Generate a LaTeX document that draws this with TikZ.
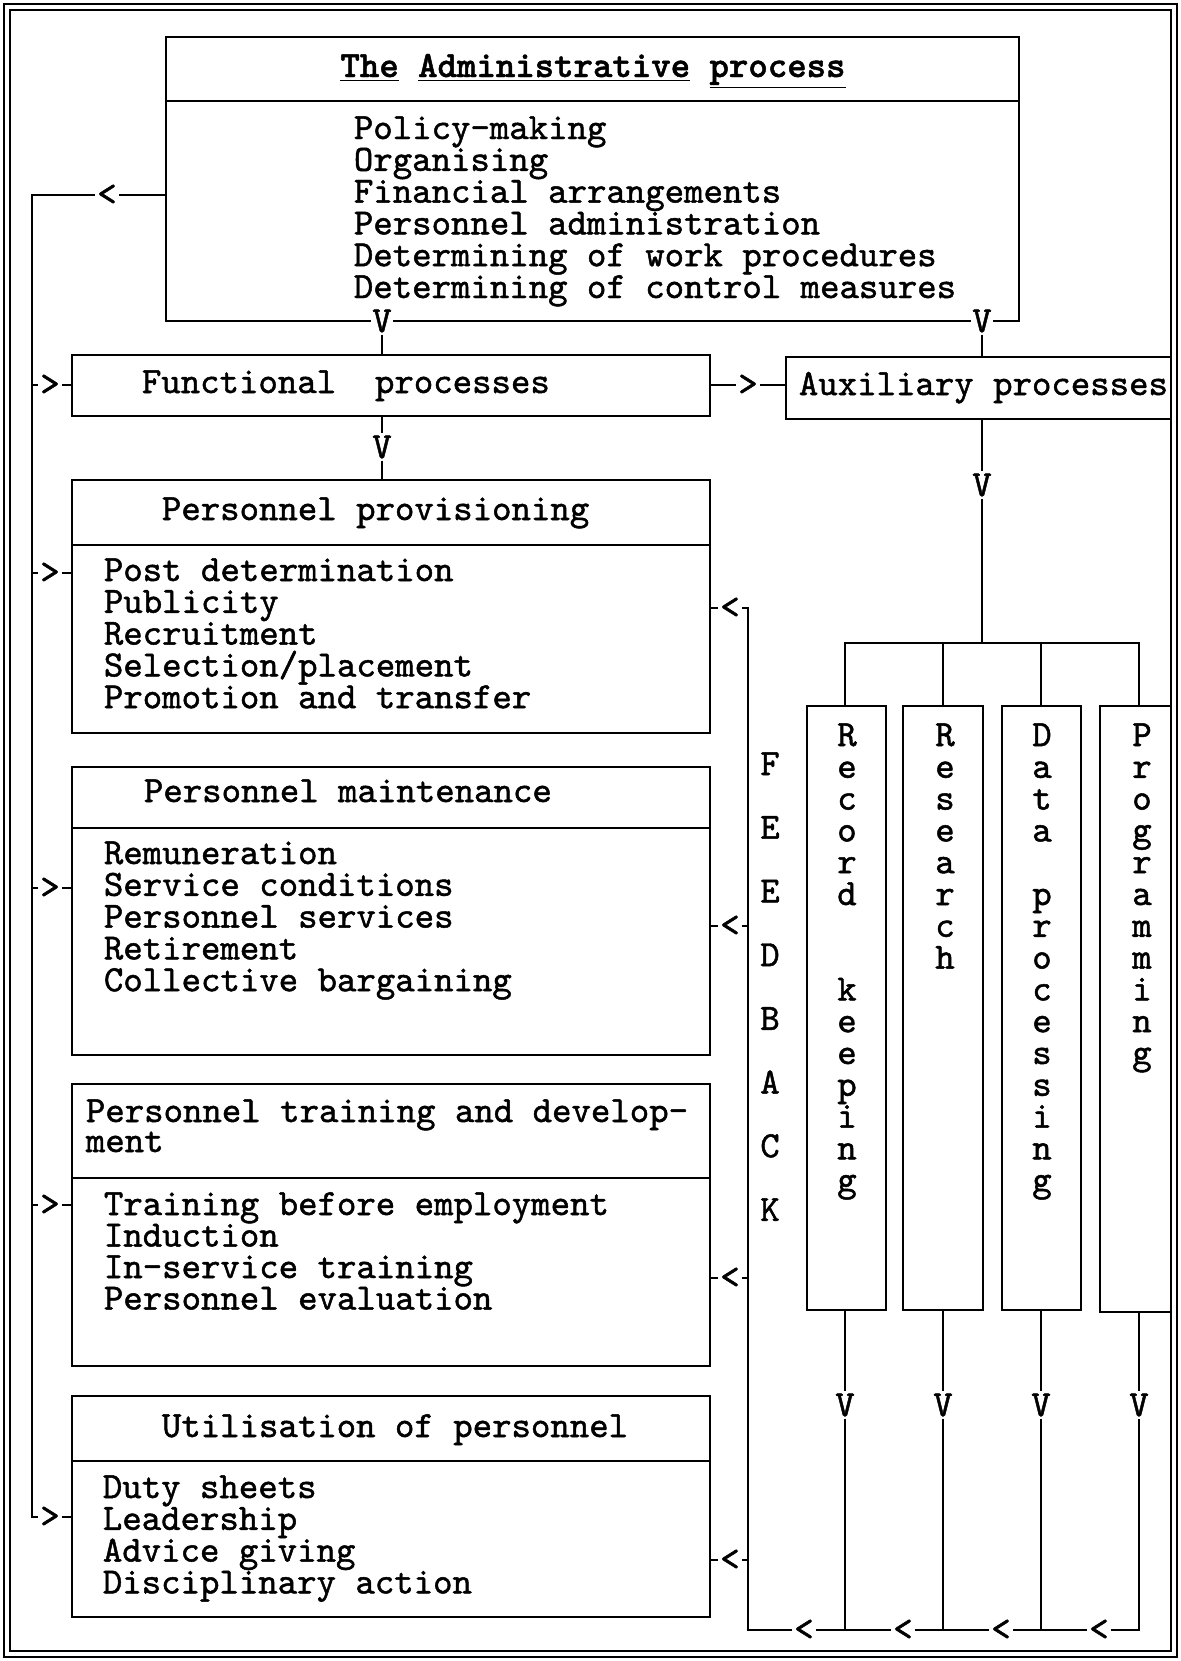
\documentclass[tikz,border=0pt]{standalone}
\usepackage{fontspec}
\newfontfamily\chartmono{lmmono10-regular}[Extension=.otf, FakeBold=1.3,
  BoldFont=lmmonolt10-bold]
\usetikzlibrary{fit}

\newcommand{\chartfont}{\fontsize{18.5}{15.9}\selectfont\chartmono}

\tikzset{
  box/.style={draw, inner sep=0pt},
  item/.style={font=\chartfont, anchor=base west, inner sep=0pt},
  letter/.style={font=\chartfont, anchor=base, inner sep=0pt},
  tip/.style={font=\chartfont, fill=white, inner sep=0.6pt},
}

\begin{document}
\begin{tikzpicture}[x=0.5pt, y=-0.5pt, line width=0.9pt]
\fill[white] (0,0) rectangle (1181,1661);
% double frame
\draw (4,4) rectangle (1177,1657);
\draw (10,10) rectangle (1171,1651);

% boxes
\node[box, fit={(166,37) (1019,321)}] (admin) {};
\node[box, fit={(72,355) (710,416)}] (func) {};
\node[box, fit={(786,357) (1171,419)}] (aux) {};
\node[box, fit={(72,480) (710,733)}] (prov) {};
\node[box, fit={(72,767) (710,1055)}] (maint) {};
\node[box, fit={(72,1084) (710,1366)}] (train) {};
\node[box, fit={(72,1396) (710,1617)}] (util) {};
\node[box, fit={(807,706) (886,1310)}] (rec) {};
\node[box, fit={(903,706) (983,1310)}] (res) {};
\node[box, fit={(1002,706) (1081,1310)}] (dat) {};
\node[box, fit={(1100,706) (1171,1312)}] (prg) {};

% header lines
\draw (admin.west |- 0,101) -- (admin.east |- 0,101);
\draw (prov.west |- 0,545) -- (prov.east |- 0,545);
\draw (maint.west |- 0,828) -- (maint.east |- 0,828);
\draw (train.west |- 0,1178) -- (train.east |- 0,1178);
\draw (util.west |- 0,1461) -- (util.east |- 0,1461);

% headings
\node[font=\chartfont\bfseries, anchor=base, inner sep=0pt] (admin-t) at (593,77)
  {\underline{The} \underline{Administrative} \underline{process}};
\node[item] (func-t) at (141,393) {Functional\ \ processes};
\node[item] (aux-t) at (798,395) {Auxiliary processes};
\node[item] (prov-t) at (161,520) {Personnel provisioning};
\node[item] (maint-t) at (143,802) {Personnel maintenance};
\node[item] (train-t1) at (85,1122) {Personnel training and develop-};
\node[item] (train-t2) at (85,1152) {ment};
\node[item] (util-t) at (161,1437) {Utilisation of personnel};

% lists
\foreach \t [count=\i] in {Policy-making,Organising,Financial arrangements,Personnel administration,Determining of work procedures,Determining of control measures}
  \node[item] (admin-\i) at (353,{139+(\i-1)*31.8}) {\t};
\foreach \t [count=\i] in {Post determination,Publicity,Recruitment,Selection/placement,Promotion and transfer}
  \node[item] (prov-\i) at (103,{581+(\i-1)*31.8}) {\t};
\foreach \t [count=\i] in {Remuneration,Service conditions,Personnel services,Retirement,Collective bargaining}
  \node[item] (maint-\i) at (103,{864+(\i-1)*31.8}) {\t};
\foreach \t [count=\i] in {Training before employment,Induction,In-service training,Personnel evaluation}
  \node[item] (train-\i) at (103,{1215+(\i-1)*31.5}) {\t};
\foreach \t [count=\i] in {Duty sheets,Leadership,Advice giving,Disciplinary action}
  \node[item] (util-\i) at (102,{1498+(\i-1)*31.8}) {\t};

% upright texts
\foreach \c [count=\i from 0] in {F,E,E,D,B,A,C,K}
  \node[letter] (fb-\i) at (770,{775+\i*63.7}) {\c};
\foreach \c [count=\i from 0] in {R,e,c,o,r,d}
  \node[letter] (rec-\i) at (847,{746+\i*31.8}) {\c};
\foreach \c [count=\i from 8] in {k,e,e,p,i,n,g}
  \node[letter] (rec-\i) at (847,{746+\i*31.8}) {\c};
\foreach \c [count=\i from 0] in {R,e,s,e,a,r,c,h}
  \node[letter] (res-\i) at (945,{746+\i*31.8}) {\c};
\foreach \c [count=\i from 0] in {D,a,t,a}
  \node[letter] (dat-\i) at (1042,{746+\i*31.8}) {\c};
\foreach \c [count=\i from 5] in {p,r,o,c,e,s,s,i,n,g}
  \node[letter] (dat-\i) at (1042,{746+\i*31.8}) {\c};
\foreach \c [count=\i from 0] in {P,r,o,g,r,a,m,m,i,n,g}
  \node[letter] (prg-\i) at (1142,{746+\i*31.8}) {\c};

% arrow letters
\node[tip] (va1) at (382,321) {V};
\node[tip] (va2) at (982,321) {V};
\node[tip] (vf) at (382,447) {V};
\node[tip] (vx) at (982,485) {V};
\node[tip] (mt) at (748,385) {>};
\node[tip] (lt0) at (107,195) {<};
\node[tip] (lt1) at (50,385) {>};
\node[tip] (lt2) at (50,573) {>};
\node[tip] (lt3) at (50,888) {>};
\node[tip] (lt4) at (50,1205) {>};
\node[tip] (lt5) at (50,1517) {>};
\node[tip] (rt1) at (730,608) {<};
\node[tip] (rt2) at (730,926) {<};
\node[tip] (rt3) at (730,1278) {<};
\node[tip] (rt4) at (730,1560) {<};
\node[tip] (vrec) at (845,1405) {V};
\node[tip] (vres) at (943,1405) {V};
\node[tip] (vdat) at (1041,1405) {V};
\node[tip] (vprg) at (1139,1405) {V};
\node[tip] (bt1) at (804,1630) {<};
\node[tip] (bt2) at (903,1630) {<};
\node[tip] (bt3) at (1001,1630) {<};
\node[tip] (bt4) at (1099,1630) {<};

% connectors
\coordinate (br) at (982,643);
\draw (va1) -- (va1 |- func.north);
\draw (va2) -- (va2 |- aux.north);
\draw (vf |- func.south) -- (vf) -- (vf |- prov.north);
\draw (func.east |- mt) -- (mt) -- (mt -| aux.west);
\draw (vx |- aux.south) -- (vx) -- (br);
\draw (vrec |- rec.north) |- (br) -| (vprg |- prg.north);
\draw (vres |- br) -- (vres |- res.north);
\draw (vdat |- br) -- (vdat |- dat.north);
\foreach \b/\v in {rec/vrec,res/vres,dat/vdat,prg/vprg}
  \draw (\v |- \b.south) -- (\v);

% feedback on the left
\coordinate (lc) at (32,1517);
\draw (admin.west |- lt0) -- (lt0) -| (lc) -- (lt5) -- (lt5 -| util.west);
\foreach \n/\b in {lt1/func,lt2/prov,lt3/maint,lt4/train}
  \draw (\n -| lc) -- (\n) -- (\n -| \b.west);

% feedback on the right
\coordinate (rc) at (748,1630);
\draw (prov.east |- rt1) -- (rt1) -| (rc) -- (bt1) -- (bt2) -- (bt3) -- (bt4) -| (vprg);
\foreach \n/\b in {rt2/maint,rt3/train,rt4/util}
  \draw (\n -| rc) -- (\n) -- (\n -| \b.east);
\foreach \v in {vrec,vres,vdat}
  \draw (\v) -- (\v |- rc);
\end{tikzpicture}
\end{document}
